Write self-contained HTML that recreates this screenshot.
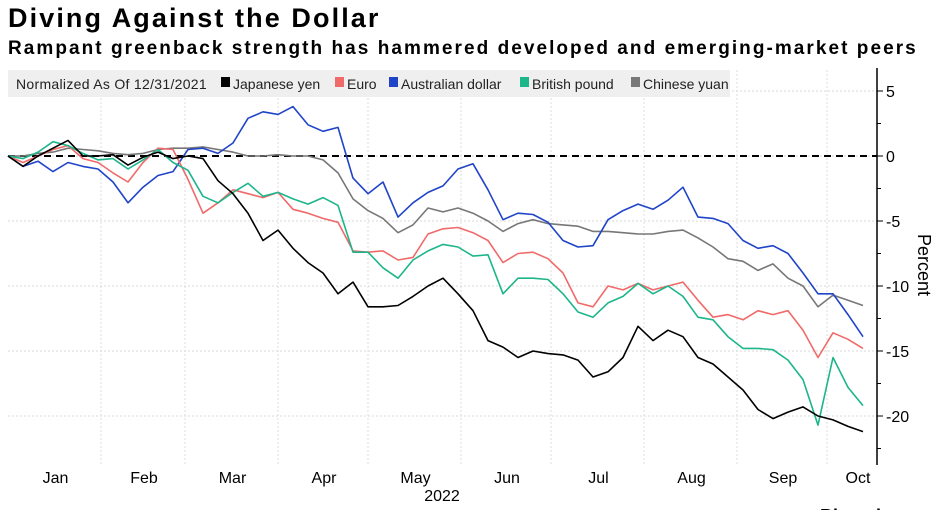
<!DOCTYPE html>
<html><head><meta charset="utf-8"><style>
body{margin:0;background:#fff;width:941px;height:510px;overflow:hidden;font-family:"Liberation Sans",sans-serif;}
#title{position:absolute;left:8px;top:3px;font-size:27px;font-weight:bold;color:#000;letter-spacing:2.1px;}
#sub{position:absolute;left:8px;top:38px;font-size:19px;font-weight:bold;color:#000;letter-spacing:2.05px;}
svg{position:absolute;left:0;top:0;}
</style></head><body>
<div id="title">Diving Against the Dollar</div>
<div id="sub">Rampant greenback strength has hammered developed and emerging-market peers</div>
<svg id="chart" width="941" height="510"></svg>
<script>
const days=[0,5,10,15,20,25,30,35,40,45,50,55,60,65,70,75,80,85,90,95,100,105,110,115,120,125,130,135,140,145,150,155,160,165,170,175,180,185,190,195,200,205,210,215,220,225,230,235,240,245,250,255,260,265,270,275,280,285];
const yen=[0,-0.8,0,0.6,1.2,0,0,0.1,-0.7,-0.1,0.3,-0.2,0,-0.2,-1.9,-2.9,-4.4,-6.5,-5.7,-7.1,-8.2,-9.0,-10.6,-9.7,-11.6,-11.6,-11.5,-10.8,-10.0,-9.4,-10.6,-11.9,-14.2,-14.7,-15.5,-15.0,-15.2,-15.3,-15.7,-17.0,-16.6,-15.5,-13.1,-14.2,-13.4,-13.9,-15.5,-16.0,-17.0,-18.0,-19.5,-20.2,-19.7,-19.3,-20.0,-20.3,-20.8,-21.2];
const euro=[0,-0.5,0,0.5,0.8,-0.2,-0.5,-1.3,-2.0,-0.5,0.6,0.5,-1.8,-4.4,-3.6,-2.6,-2.9,-3.2,-2.8,-4.1,-4.4,-4.8,-5.1,-7.3,-7.4,-7.3,-8.0,-7.8,-6.0,-5.6,-5.5,-5.9,-6.5,-8.2,-7.5,-7.4,-7.9,-9.0,-11.3,-11.6,-10.0,-10.3,-9.8,-10.3,-10.0,-9.7,-11.1,-12.4,-12.2,-12.6,-11.9,-12.2,-11.9,-13.4,-15.5,-13.6,-14.1,-14.8];
const aud=[0,-0.8,-0.4,-1.2,-0.5,-0.8,-1.0,-2.0,-3.6,-2.4,-1.5,-1.2,0.5,0.6,0.2,1.0,2.9,3.4,3.2,3.8,2.4,1.9,2.2,-1.7,-2.9,-2.0,-4.7,-3.6,-2.8,-2.3,-1.0,-0.6,-2.6,-4.9,-4.4,-4.5,-5.1,-6.5,-7.0,-6.9,-4.9,-4.2,-3.7,-4.1,-3.4,-2.4,-4.7,-4.8,-5.2,-6.5,-7.1,-6.9,-7.5,-9.0,-10.6,-10.6,-12.2,-13.9];
const gbp=[0,-0.2,0.3,1.1,0.8,0.2,-0.3,-0.2,-1.0,-0.3,0.5,-0.5,-1.1,-3.1,-3.6,-2.8,-2.1,-3.1,-2.8,-3.3,-3.7,-3.2,-3.8,-7.4,-7.4,-8.6,-9.4,-8.0,-7.3,-6.8,-7.0,-7.7,-7.6,-10.6,-9.4,-9.4,-9.5,-10.6,-12.0,-12.4,-11.3,-10.8,-9.8,-10.6,-10.0,-10.8,-12.4,-12.6,-13.9,-14.8,-14.8,-14.9,-15.7,-17.2,-20.7,-15.5,-17.8,-19.2];
const cny=[0,0,0.2,0.3,0.6,0.5,0.4,0.2,0.1,0.2,0.5,0.6,0.6,0.7,0.5,0.3,0,0,0.1,0,0,-0.3,-1.3,-3.3,-4.2,-4.8,-5.9,-5.3,-4.0,-4.3,-4.0,-4.4,-5.0,-5.8,-5.2,-4.9,-5.2,-5.3,-5.4,-5.8,-5.8,-5.9,-6.0,-6.0,-5.8,-5.7,-6.3,-7.0,-7.9,-8.1,-8.8,-8.3,-9.4,-10.0,-11.6,-10.7,-11.1,-11.5];
const yTicks=[5,0,-5,-10,-15,-20];
const months=["Jan","Feb","Mar","Apr","May","Jun","Jul","Aug","Sep","Oct"];
const monthStart=[0,31,59,90,120,151,181,212,243,273];

const NS="http://www.w3.org/2000/svg";
const svg=document.getElementById('chart');
const X=d=>8+d*3.0;
const Y=v=>156-v*13;
function el(t,a,p){const e=document.createElementNS(NS,t);for(const k in a)e.setAttribute(k,a[k]);(p||svg).appendChild(e);return e;}

yTicks.forEach(v=>{
  const g=el('line',{x1:8,x2:877,y1:Y(v),y2:Y(v),stroke:'#d8d8d8','stroke-dasharray':'2,2'});
  
  
  const t=el('line',{x1:877,x2:883,y1:Y(v),y2:Y(v),stroke:'#000'});
  
  
  const l=el('text',{x:886,y:Y(v)+6,'font-size':16,fill:'#000'});
  l.textContent=(v<0?'-':'')+Math.abs(v);
  
  
});
[2.5,-2.5,-7.5,-12.5,-17.5,-22.5].forEach(v=>{
  const t=el('line',{x1:877,x2:881,y1:Y(v),y2:Y(v),stroke:'#000'});
  
  
});
monthStart.forEach((d,i)=>{
  if(i>0){const g=el('line',{x1:X(d),x2:X(d),y1:70,y2:465,stroke:'#dedede','stroke-dasharray':'2,2'});
  
  }
  const end=i<9?monthStart[i+1]:293;
  const l=el('text',{x:(X(d)+X(end))/2+1,y:483,'font-size':16,'text-anchor':'middle',fill:'#000'});
  l.textContent=months[i];
  
  
});
const yr=el('text',{x:442,y:501,'font-size':16,'text-anchor':'middle',fill:'#000'});
yr.textContent='2022';


const ax=el('line',{x1:877,x2:877,y1:68,y2:465,stroke:'#000','stroke-width':1.5});


const pt=el('text',{x:918,y:265,'font-size':18,'text-anchor':'middle',fill:'#000',transform:'rotate(90 918 265)'});
pt.textContent='Percent';


const zl=el('line',{x1:8,x2:877,y1:Y(0),y2:Y(0),stroke:'#000','stroke-width':2,'stroke-dasharray':'7,5'});



const series=[[cny,'#777','chinese-yuan-line'],[aud,'#1f44c8','australian-dollar-line'],[euro,'#f06a6a','euro-line'],[gbp,'#1db58a','british-pound-line'],[yen,'#000','japanese-yen-line']];
series.forEach(s=>{
  const p=el('polyline',{points:days.map((d,i)=>X(d)+','+Y(s[0][i])).join(' '),fill:'none',stroke:s[1],'stroke-width':1.6,'stroke-linejoin':'round'});
  
  
});

const lg=el('rect',{x:8,y:70,width:722,height:27,fill:'#efefef'});


const lt=el('text',{x:16,y:89,'font-size':14,fill:'#222','letter-spacing':0.3});
lt.textContent='Normalized As Of 12/31/2021';


[['Japanese yen','#000',221],['Euro','#f06a6a',335],['Australian dollar','#1f44c8',389],['British pound','#1db58a',520],['Chinese yuan','#777',631]].forEach(e=>{
  const g=el('g',{});
  
  
  el('rect',{x:e[2],y:77,width:9,height:10,fill:e[1]},g);
  const t=el('text',{x:e[2]+12,y:89,'font-size':14,fill:'#222'},g);
  t.textContent=e[0];
});
const bb=el('text',{x:820,y:522,'font-size':18,'font-weight':'bold',fill:'#000'});
bb.textContent='Bloomberg';


</script>
</body></html>
